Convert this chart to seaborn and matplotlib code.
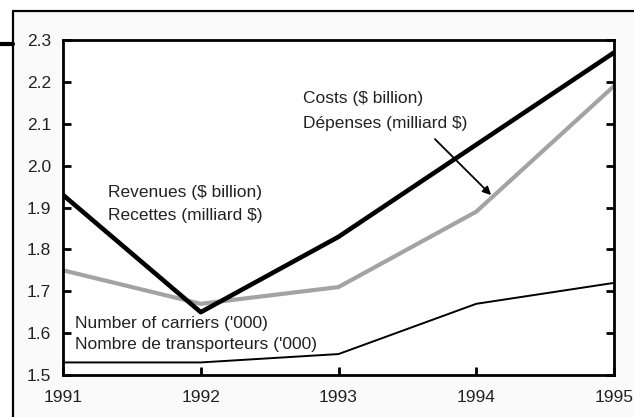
import matplotlib
matplotlib.use("Agg")
import matplotlib.pyplot as plt
import pandas as pd
import seaborn as sns
from matplotlib.lines import Line2D
from matplotlib.patches import Rectangle

# ──── DATA ────────────────────────────────────────────────────────────────────
years = [1991, 1992, 1993, 1994, 1995]
revenues = [1.93, 1.65, 1.83, 2.05, 2.27]
costs = [1.75, 1.67, 1.71, 1.89, 2.19]
carriers = [1.53, 1.53, 1.55, 1.67, 1.72]
y_ticks = [1.5, 1.6, 1.7, 1.8, 1.9, 2.0, 2.1, 2.2, 2.3]

df = pd.DataFrame({"year": years, "revenues": revenues, "costs": costs, "carriers": carriers})

sns.set_style("white")
plt.rcParams["font.family"] = ["Liberation Sans", "DejaVu Sans"]
fs = 12.5

fig = plt.figure(figsize=(6.34, 4.17), dpi=100, facecolor="white")

# outer frame, background and little marker on the left
fig.patches.append(Rectangle((13 / 634, 0), 1, 1 - 11 / 417, transform=fig.transFigure,
                             facecolor="#fafafa", edgecolor="none", zorder=-10))
fig.lines.append(Line2D([13 / 634, 13 / 634], [0, 1 - 11 / 417], transform=fig.transFigure,
                        color="black", lw=1.6, zorder=-5))
fig.lines.append(Line2D([13 / 634, 1], [1 - 11 / 417, 1 - 11 / 417], transform=fig.transFigure,
                        color="black", lw=1.6, zorder=-5))
fig.lines.append(Line2D([0, 13 / 634], [1 - 44 / 417, 1 - 44 / 417], transform=fig.transFigure,
                        color="black", lw=3, zorder=-5))

ax = fig.add_axes([63 / 634, 1 - 375 / 417, (614 - 63) / 634, (375 - 40) / 417])

sns.lineplot(data=df, x="year", y="carriers", color="black", lw=1.4, ax=ax)
sns.lineplot(data=df, x="year", y="costs", color="#a3a3a3", lw=3, ax=ax)
sns.lineplot(data=df, x="year", y="revenues", color="black", lw=3.3, ax=ax)

ax.set_facecolor("white")
ax.set_xlim(1991, 1995)
ax.set_ylim(1.5, 2.3)
ax.set_xticks(years)
ax.set_xticklabels([str(y) for y in years])
ax.set_yticks(y_ticks)
ax.set_yticklabels([f"{v:.1f}" for v in y_ticks])
ax.set_xlabel("")
ax.set_ylabel("")
for s in ax.spines.values():
    s.set_visible(True)
    s.set_color("black")
    s.set_linewidth(2)
ax.tick_params(axis="y", which="both", direction="in", left=True, right=True,
               length=5.5, width=2, pad=8.5, labelsize=fs, colors="black", labelcolor="#222222")
ax.tick_params(axis="x", which="both", direction="in", bottom=True,
               length=5.5, width=2, pad=11, labelsize=fs, colors="black", labelcolor="#222222")

txt = dict(fontsize=fs, color="#222222", va="center", ha="left")
ax.text(1992.742, 2.161, "Costs ($ billion)", **txt)
ax.text(1992.742, 2.101, "Dépenses (milliard $)", **txt)
ax.text(1991.327, 1.937, "Revenues ($ billion)", **txt)
ax.text(1991.327, 1.882, "Recettes (milliard $)", **txt)
ax.text(1991.087, 1.624, "Number of carriers ('000)", **txt)
ax.text(1991.087, 1.574, "Nombre de transporteurs ('000)", **txt)

ax.annotate("", xy=(1994.122, 1.925), xytext=(1993.686, 2.068),
            arrowprops=dict(arrowstyle="-|>", color="black", lw=1.3, mutation_scale=12))

fig.savefig("out.png", dpi=100, facecolor=fig.get_facecolor())
